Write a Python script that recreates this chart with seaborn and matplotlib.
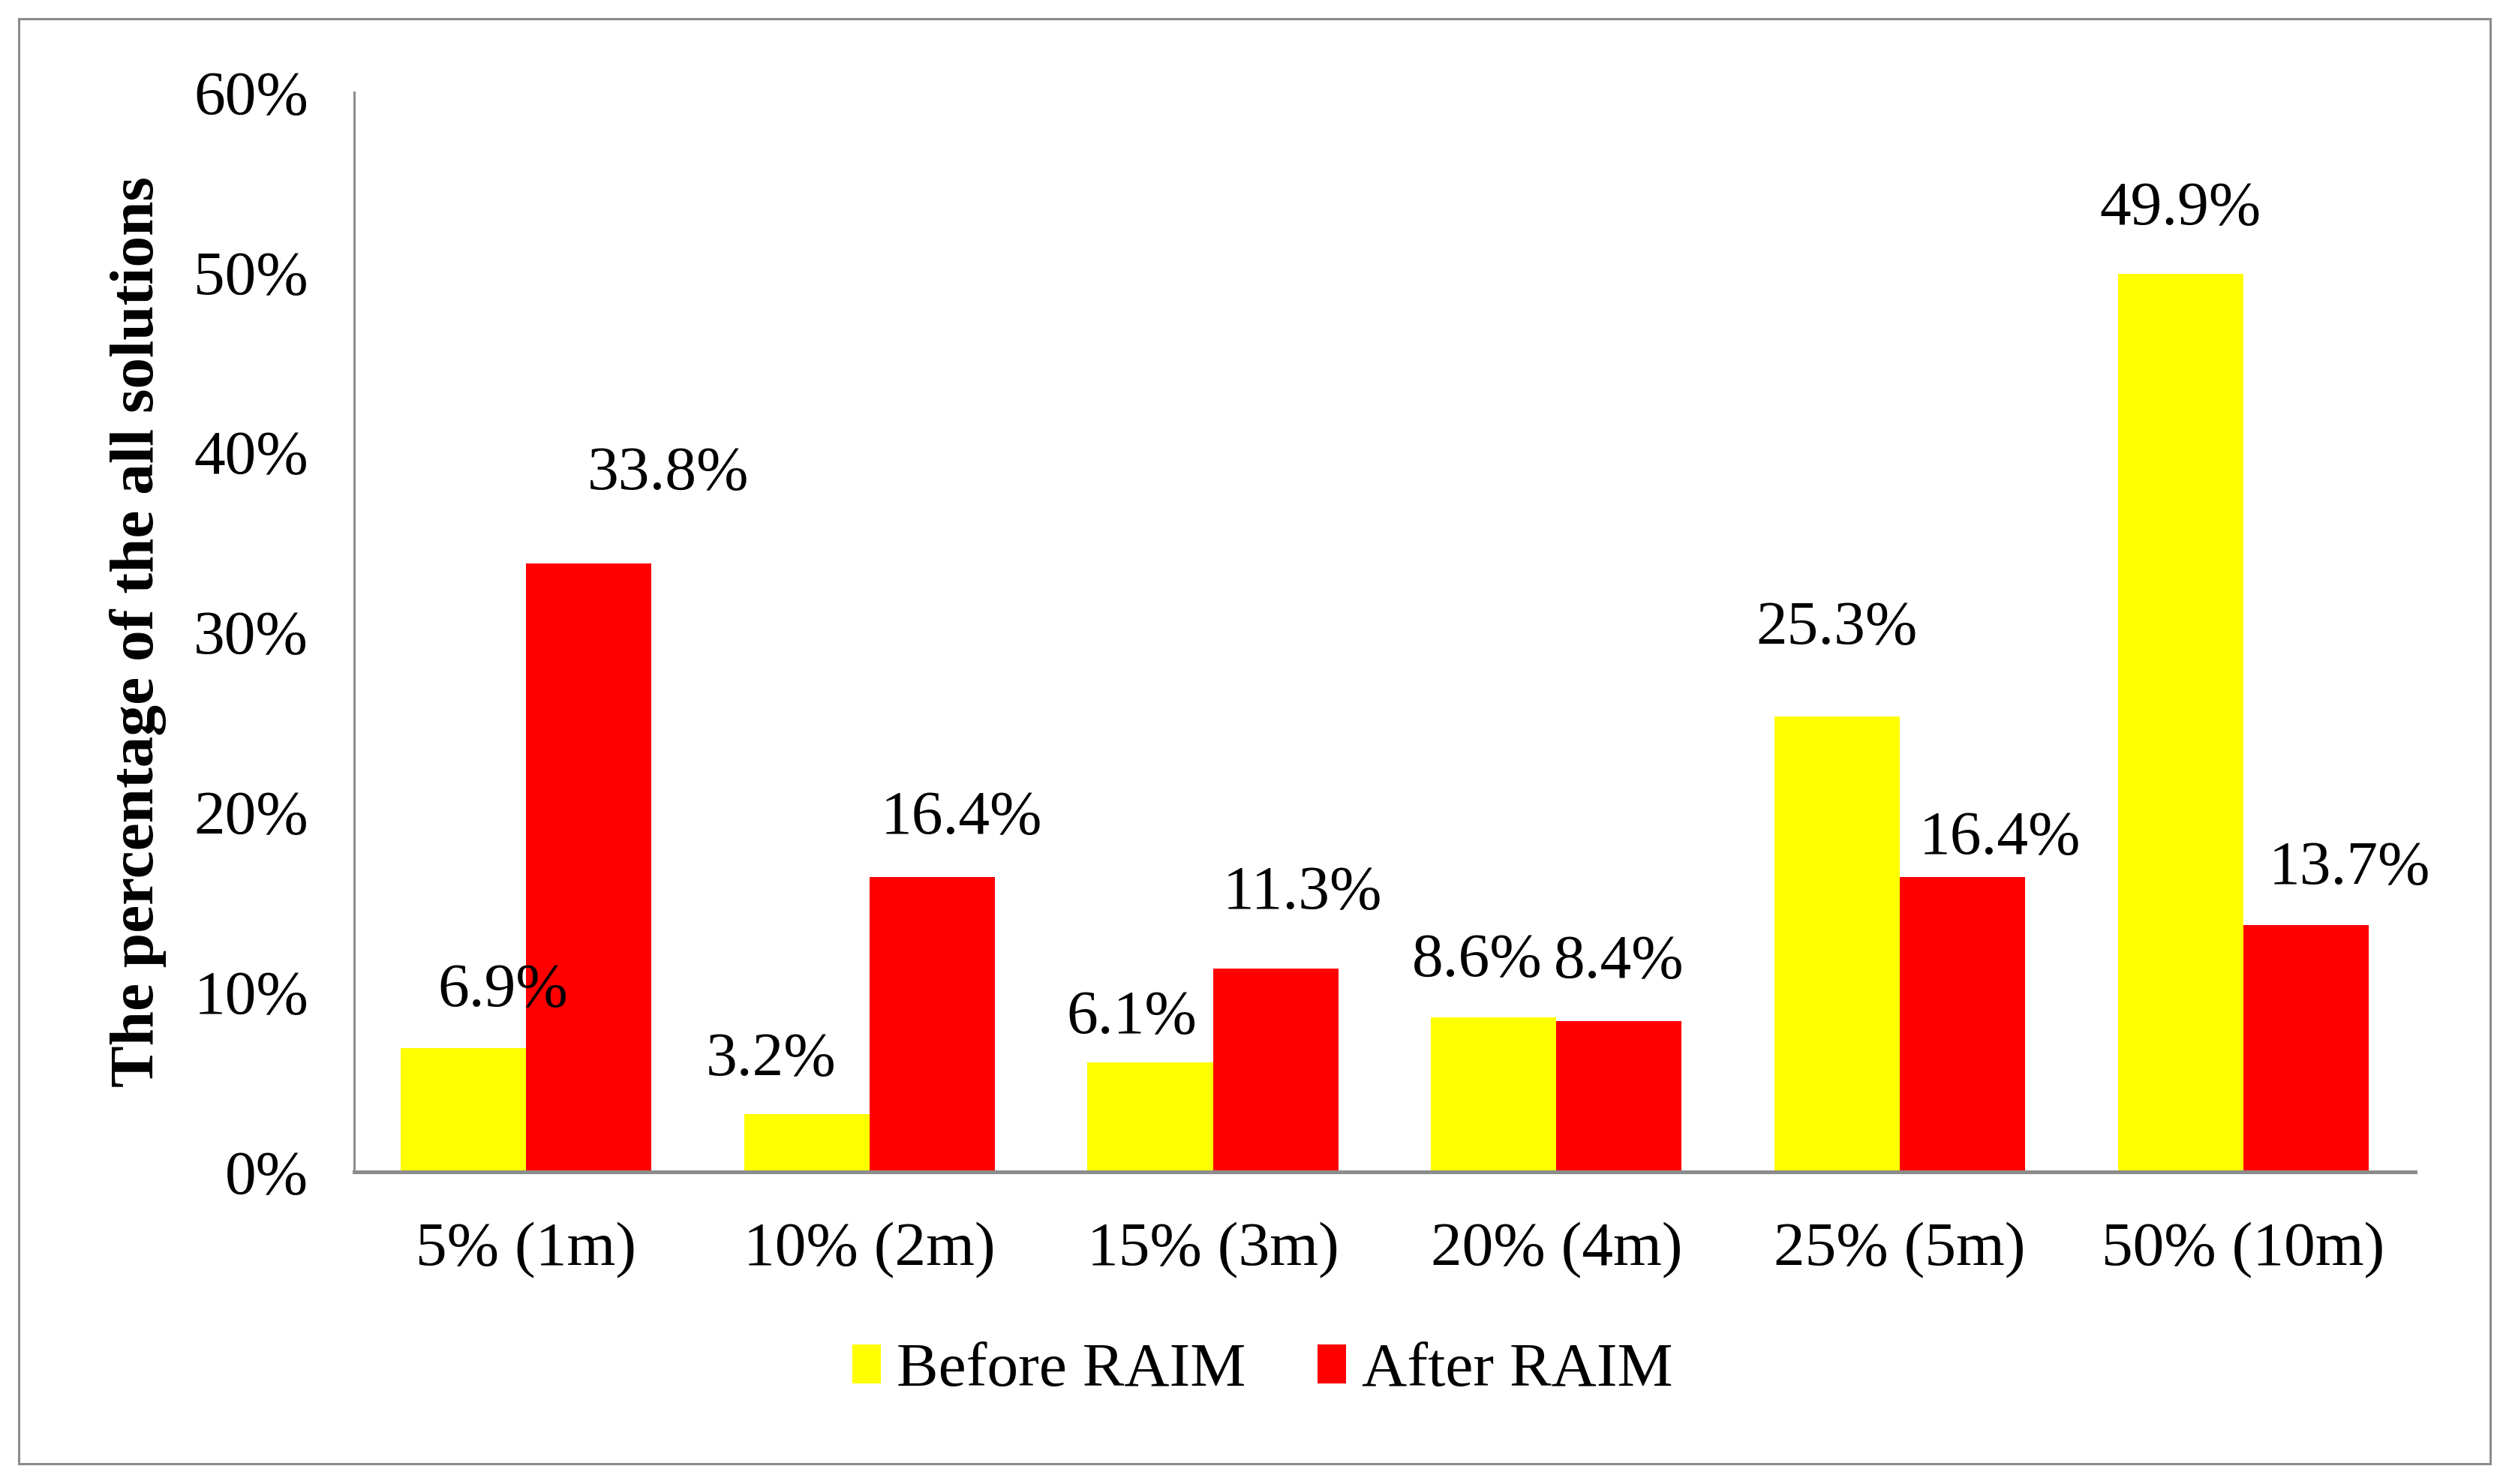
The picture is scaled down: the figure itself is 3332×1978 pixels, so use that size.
import matplotlib
matplotlib.use("Agg")
from matplotlib import pyplot as plt
from matplotlib.patches import Rectangle, Patch
from matplotlib.ticker import FuncFormatter
import pandas as pd
import seaborn as sns

# chart data
thresholds = ["5% (1m)", "10% (2m)", "15% (3m)", "20% (4m)", "25% (5m)", "50% (10m)"]
before_raim = [6.9, 3.2, 6.1, 8.6, 25.3, 49.9]
after_raim = [33.8, 16.4, 11.3, 8.4, 16.4, 13.7]
stages = ["Before RAIM", "After RAIM"]
colors = ["#FFFF00", "#FF0000"]

# label nudges (points) as placed in the original, (dx, dy) per bar
before_offsets = [(19, 27), (-17, 26), (-9, 21), (-8, 27), (0, 42), (0, 31)]
after_offsets = [(38, 43), (14, 28), (13, 36), (0, 28), (18, 18), (21, 27)]

df = pd.DataFrame({
    "threshold": thresholds * 2,
    "pct": before_raim + after_raim,
    "stage": [stages[0]] * len(thresholds) + [stages[1]] * len(thresholds),
})

sns.set_style("white")
plt.rcParams["font.family"] = ["Liberation Serif", "DejaVu Serif"]
plt.rcParams["text.color"] = "black"
plt.rcParams["axes.labelcolor"] = "black"

fig = plt.figure(figsize=(16.66, 9.89), dpi=200)
ax = fig.add_axes([0.1417, 0.2103, 0.8243, 0.7275])

sns.barplot(data=df, x="threshold", y="pct", hue="stage", palette=colors,
            order=thresholds, hue_order=stages, width=0.73, saturation=1,
            linewidth=0, ax=ax)

ax.set_ylim(0, 60)
ax.set_yticks(range(0, 61, 10))
ax.yaxis.set_major_formatter(FuncFormatter(lambda v, p: "{:.0f}%".format(v)))
ax.tick_params(axis="both", length=0, labelsize=30, colors="black")
ax.tick_params(axis="y", pad=22)
ax.tick_params(axis="x", pad=24)
ax.set_xlabel("")
ax.set_ylabel("The percentage of the all solutions", fontsize=30, fontweight="bold")
ax.yaxis.set_label_coords(-0.091, 0.5)

for side in ["top", "right"]:
    ax.spines[side].set_visible(False)
ax.spines["left"].set_color("#8c8c8c")
ax.spines["left"].set_linewidth(1.1)
ax.spines["bottom"].set_color("#8c8c8c")
ax.spines["bottom"].set_linewidth(1.8)

# value labels
for cont, offsets in zip(ax.containers, [before_offsets, after_offsets]):
    for bar, (dx, dy) in zip(cont, offsets):
        h = bar.get_height()
        ax.annotate("{:.1f}%".format(h), xy=(bar.get_x() + bar.get_width() / 2, h),
                    xytext=(dx, dy), textcoords="offset points",
                    ha="center", va="center", fontsize=30, color="black",
                    annotation_clip=False)

ax.get_legend().remove()
handles = [Patch(facecolor=c, edgecolor="none") for c in colors]
fig.legend(handles, stages, loc="center", bbox_to_anchor=(0.505, 0.076),
           ncol=2, frameon=False, fontsize=30, handlelength=0.46,
           handleheight=0.57, handletextpad=0.25, columnspacing=1.15)

# outer chart border
fig.patches.append(Rectangle((0.0075, 0.0137), 0.9886, 0.9737, transform=fig.transFigure,
                             fill=False, edgecolor="#8c8c8c", linewidth=1.1))

plt.savefig("out.png", dpi=200)
